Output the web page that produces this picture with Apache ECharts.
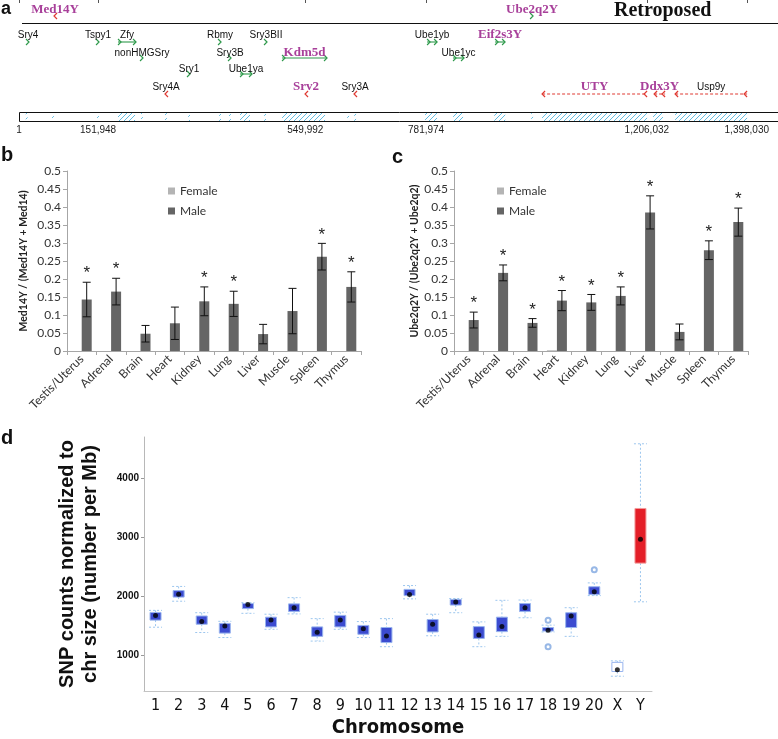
<!DOCTYPE html>
<html><head><meta charset="utf-8">
<script src="https://cdn.jsdelivr.net/npm/echarts@6/dist/echarts.min.js"></script>
<style>html,body{margin:0;padding:0;background:#fff}#c{width:778px;height:739px}</style>
</head><body><div id="c"></div>
<script>
// ---------- Panel a data ----------
const geneNames = ['Med14Y','Ube2q2Y','Sry4','Tspy1','Zfy','Rbmy','Sry3BII','Ube1yb','Eif2s3Y','nonHMGSry','Sry3B','Kdm5d','Ube1yc','Sry1','Ube1ya','Sry4A','Srv2','Sry3A','UTY','Ddx3Y','Usp9y'];
const geneStart = [69200,985600,17300,151800,190200,386200,474500,783900,914500,236300,405400,505300,833800,326600,424600,282400,551400,645500,1004800,1220000,1260300];
const geneEnd   = [69200,985600,17300,151800,224800,386200,474500,803100,933700,236300,405400,591700,854900,326600,447600,282400,551400,645500,1206500,1241100,1398600];
const geneStrand = [-1,1,1,1,1,1,1,1,1,1,1,1,1,1,1,-1,-1,-1,-1,-1,-1];
const geneRow = [0,0,1,1,1,1,1,1,1,2,2,2,2,3,3,4,4,4,4,4,4];
const geneRetroposed = [1,1,0,0,0,0,0,0,1,0,0,1,0,0,0,0,1,0,1,1,0];
const repeatStart = [13000,63500,150000,190200,234500,280500,325000,384500,403500,424600,471000,505300,630500,644000,780000,834000,913000,984000,1004800,1218000,1260300];
const repeatEnd   = [16500,67000,153500,222900,238000,284000,328500,388000,407000,443800,474500,587900,634000,647500,803000,853000,934000,987500,1206500,1237000,1398600];
const scaleTicks = [1,151948,549992,781974,1206032,1398030];

// ---------- Panels b / c data ----------
const tissues = ['Testis/Uterus','Adrenal','Brain','Heart','Kidney','Lung','Liver','Muscle','Spleen','Thymus'];
const bFemale = [0,0,0,0,0,0,0,0,0,0];
const bMale   = [0.143,0.165,0.048,0.077,0.138,0.131,0.047,0.111,0.262,0.178];
const bErr    = [0.048,0.037,0.023,0.045,0.040,0.035,0.027,0.063,0.037,0.042];
const bSig    = [1,1,0,0,1,1,0,0,1,1];
const cFemale = [0,0,0,0.002,0,0,0,0,0,0];
const cMale   = [0.086,0.217,0.078,0.140,0.135,0.153,0.385,0.053,0.280,0.358];
const cErr    = [0.022,0.022,0.012,0.028,0.022,0.025,0.046,0.022,0.026,0.039];
const cSig    = [1,1,1,1,1,1,1,0,1,1];

// ---------- Panel d data ----------
const chromosomes = ['1','2','3','4','5','6','7','8','9','10','11','12','13','14','15','16','17','18','19','20','X','Y'];
const dLow  = [1480,1920,1390,1305,1715,1445,1705,1245,1445,1305,1150,1960,1335,1725,1150,1325,1640,1400,1325,2015,650,1910];
const dQ1   = [1600,1990,1530,1380,1795,1485,1745,1325,1485,1360,1220,2015,1400,1855,1290,1405,1745,1415,1475,2035,730,2565];
const dQ3   = [1730,2100,1670,1545,1880,1650,1875,1485,1680,1510,1475,2120,1610,1950,1490,1650,1880,1475,1725,2165,885,3490];
const dHigh = [1765,2170,1725,1580,1895,1700,1980,1625,1735,1575,1625,2185,1700,1965,1570,1935,1940,1515,1810,2230,910,4585];
const dMean = [1680,2040,1575,1500,1865,1600,1810,1395,1600,1455,1330,2035,1530,1905,1350,1490,1810,1430,1670,2080,760,2970];
const dOutlierChr = ['18','18','20'];
const dOutlierVal = [1597,1148,2454];
const dTicks = [1000,2000,3000,4000];

// ---------- layout / style ----------
const ROW_LABEL_Y = [10,35,53,69,87];
const ROW_ARROW_Y = [16,42,58,74,94];
const TRACK_TOP = 112, TRACK_BOTTOM = 121;
const BAR_W = 10;
const NARROW = '"DejaVu Sans Condensed","Liberation Sans Narrow","Arial Narrow","Liberation Sans",sans-serif';

function makeHatch(){
  const c=document.createElement('canvas'); c.width=5; c.height=5;
  const g=c.getContext('2d'); g.fillStyle='#ffffff'; g.fillRect(0,0,5,5);
  g.strokeStyle='#62bde3'; g.lineWidth=1;
  g.beginPath(); g.moveTo(-1,6); g.lineTo(6,-1); g.stroke();
  return c;
}
const hatch = {image: makeHatch(), repeat:'repeat'};

function renderGene(params, api){
  const s=api.value(0), e=api.value(1), strand=api.value(2), row=api.value(3), retro=api.value(4), idx=api.value(5);
  const ay = api.coord([s, ROW_ARROW_Y[row]])[1];
  const ly = api.coord([s, ROW_LABEL_Y[row]])[1];
  const x1 = api.coord([s,0])[0], x2 = api.coord([e,0])[0];
  const col = strand>0 ? '#2f9a4c' : '#e03a32';
  const ch = [];
  const chev = (x, dir) => ({type:'polyline', shape:{points:[[x-2*dir, ay-3],[x+1*dir, ay],[x-2*dir, ay+3]]}, style:{stroke:col, lineWidth:1.2, fill:null}});
  if (x2-x1 < 4) { ch.push(chev((x1+x2)/2, strand)); }
  else {
    const st = {stroke:col, lineWidth:1.1};
    if (strand<0) st.lineDash=[3,2];
    ch.push({type:'line', shape:{x1:x1, y1:ay, x2:x2, y2:ay}, style:st});
    if (strand>0){ ch.push(chev(x1+2,1)); ch.push(chev(x2-1,1)); }
    else { ch.push(chev(x1+1,-1)); ch.push(chev(x2-2,-1)); }
  }
  ch.push({type:'text', style:{text: geneNames[idx], x:(x1+x2)/2, y:ly, align:'center', verticalAlign:'middle',
    fill: retro ? '#a8409a' : '#111', font: retro ? 'bold 13px "Liberation Serif"' : '10px "Liberation Sans"'}});
  return {type:'group', children:ch};
}
function renderRepeat(params, api){
  const x1 = api.coord([api.value(0), TRACK_TOP]), x2 = api.coord([api.value(1), TRACK_BOTTOM]);
  return {type:'rect', shape:{x:x1[0], y:x1[1], width:Math.max(1.5, x2[0]-x1[0]), height:x2[1]-x1[1]}, style:{fill:hatch, stroke:null}};
}
function renderTrack(params, api){
  const p1 = api.coord([api.value(0), TRACK_TOP]), p2 = api.coord([api.value(1), TRACK_BOTTOM]);
  return {type:'rect', shape:{x:p1[0]+0.5, y:p1[1]+0.5, width:p2[0]-p1[0]+5, height:p2[1]-p1[1]}, style:{fill:null, stroke:'#111', lineWidth:1}};
}
function renderErr(params, api){
  const i=api.value(0), v=api.value(1), e=api.value(2), sig=api.value(3);
  const x = api.coord([i,0])[0] + BAR_W/2;
  const yt = api.coord([i, v+e])[1], yb = api.coord([i, Math.max(0,v-e)])[1];
  const st = {stroke:'#111', lineWidth:1};
  const ch = [
    {type:'line', shape:{x1:x,y1:yt,x2:x,y2:yb}, style:st},
    {type:'line', shape:{x1:x-4,y1:yt,x2:x+4,y2:yt}, style:st},
    {type:'line', shape:{x1:x-4,y1:yb,x2:x+4,y2:yb}, style:st}
  ];
  if (sig) ch.push({type:'text', style:{text:'*', x:x, y:yt-17, align:'center', verticalAlign:'top', font:'17px "Liberation Sans"', fill:'#222'}});
  return {type:'group', children:ch};
}
function renderBox(params, api){
  const i=api.value(0);
  const x = api.coord([i,0])[0];
  const yLow=api.coord([i,api.value(1)])[1], yQ1=api.coord([i,api.value(2)])[1], yQ3=api.coord([i,api.value(3)])[1], yHigh=api.coord([i,api.value(4)])[1];
  const name = chromosomes[i];
  const fill = name==='Y' ? '#e41f28' : name==='X' ? '#ffffff' : '#3b4bd0';
  const stroke = name==='Y' ? '#f29a9a' : '#98b4ee';
  const w = {stroke:'#9cc6ee', lineWidth:1, lineDash:[2,2]};
  const bw=11, cw=13;
  return {type:'group', children:[
    {type:'line', shape:{x1:x,y1:yHigh,x2:x,y2:yQ3}, style:w},
    {type:'line', shape:{x1:x,y1:yQ1,x2:x,y2:yLow}, style:w},
    {type:'line', shape:{x1:x-cw/2,y1:yHigh,x2:x+cw/2,y2:yHigh}, style:w},
    {type:'line', shape:{x1:x-cw/2,y1:yLow,x2:x+cw/2,y2:yLow}, style:w},
    {type:'rect', shape:{x:x-bw/2, y:yQ3, width:bw, height:yQ1-yQ3}, style:{fill:fill, stroke:stroke, lineWidth:1}}
  ]};
}

const axisGray = '#a6a6a6';
const bcFont = 'Lato';
function bcY(grid, name, gap){
  return {gridIndex:grid, type:'value', min:0, max:0.5, interval:0.05,
    name:name, nameLocation:'middle', nameGap:gap,
    nameTextStyle:{fontWeight:'bold', fontSize:10.5, color:'#222', fontFamily:bcFont},
    axisLine:{show:true, lineStyle:{color:axisGray}}, axisTick:{show:true, length:4, lineStyle:{color:axisGray}},
    splitLine:{show:false}, axisLabel:{fontSize:12, color:'#333', fontFamily:bcFont, margin:6}};
}
function bcX(grid){
  return {gridIndex:grid, type:'category', data:tissues,
    axisLine:{lineStyle:{color:axisGray}}, axisTick:{show:true, length:4, lineStyle:{color:axisGray}},
    axisLabel:{rotate:45, interval:0, fontSize:12, color:'#333', fontFamily:bcFont, margin:6}};
}

const option = {
  backgroundColor:'#fff',
  animation:false,
  grid:[
    {left:19, right:0, top:0, height:121},
    {left:67, right:417, top:171, bottom:388},
    {left:454, right:30, top:171, bottom:388},
    {left:144, right:126, top:437, bottom:46}
  ],
  xAxis:[
    {gridIndex:0, type:'value', min:1, max:1458000, position:'bottom',
      axisLine:{show:false}, splitLine:{show:false},
      axisTick:{show:true, customValues:scaleTicks, length:3, lineStyle:{color:'#555'}},
      axisLabel:{customValues:scaleTicks, fontSize:10, color:'#222', fontFamily:'Liberation Sans', margin:4,
        formatter:v=>Number(v).toLocaleString('en-US')}},
    bcX(1), bcX(2),
    {gridIndex:3, type:'category', data:chromosomes,
      axisLine:{lineStyle:{color:'#c4c4c4'}}, axisTick:{show:false},
      axisLabel:{interval:0, fontSize:16, color:'#111', fontFamily:NARROW, margin:7},
      name:'Chromosome', nameLocation:'middle', nameGap:27,
      nameTextStyle:{fontSize:20, fontWeight:'bold', color:'#111', fontFamily:NARROW}}
  ],
  yAxis:[
    {gridIndex:0, type:'value', min:0, max:121, inverse:true, show:false},
    bcY(1, 'Med14Y / (Med14Y + Med14)', 38),
    bcY(2, 'Ube2q2Y / (Ube2q2Y + Ube2q2)', 34),
    {gridIndex:3, type:'value', min:400, max:4700,
      name:'SNP counts normalized to\nchr size (number per Mb)', nameLocation:'middle', nameGap:42,
      nameTextStyle:{fontSize:20, fontWeight:'bold', color:'#111', fontFamily:'Liberation Sans', lineHeight:23},
      axisLine:{show:true, lineStyle:{color:'#b8b8b8'}}, splitLine:{show:false},
      axisTick:{show:true, customValues:dTicks, length:3, lineStyle:{color:'#999'}},
      axisLabel:{customValues:dTicks, fontSize:10, fontWeight:'bold', color:'#111', fontFamily:'Liberation Sans', margin:5,
        formatter:v=>String(v)}}
  ],
  legend:[
    {left:163, top:180, orient:'vertical', itemWidth:7, itemHeight:7, itemGap:8, icon:'rect',
      data:['Female','Male'], textStyle:{fontSize:12, color:'#333', fontFamily:bcFont}, selectedMode:false},
    {left:492, top:180, orient:'vertical', itemWidth:7, itemHeight:7, itemGap:8, icon:'rect',
      data:['Female','Male'], textStyle:{fontSize:12, color:'#333', fontFamily:bcFont}, selectedMode:false}
  ],
  graphic:[
    {type:'text', left:1, top:0, style:{text:'a', font:'bold 18px "Liberation Sans"', fill:'#111'}},
    {type:'text', left:1, top:145, style:{text:'b', font:'bold 20px "Liberation Sans"', fill:'#111'}},
    {type:'text', left:392, top:147, style:{text:'c', font:'bold 20px "Liberation Sans"', fill:'#111'}},
    {type:'text', left:1, top:428, style:{text:'d', font:'bold 20px "Liberation Sans"', fill:'#111'}},
    {type:'line', shape:{x1:22, y1:23.5, x2:778, y2:23.5}, style:{stroke:'#111', lineWidth:1.2}},
    {type:'text', left:614, top:1, style:{text:'Retroposed', font:'bold 20px "Liberation Serif"', fill:'#111'}}
  ],
  series:[
    {type:'custom', xAxisIndex:0, yAxisIndex:0, renderItem:renderRepeat, z:2,
      data: repeatStart.map((s,i)=>[s, repeatEnd[i]])},
    {type:'custom', xAxisIndex:0, yAxisIndex:0, renderItem:renderTrack, z:3, data:[[1,1458000]]},
    {type:'custom', xAxisIndex:0, yAxisIndex:0, renderItem:renderGene, z:4,
      data: geneNames.map((n,i)=>[geneStart[i], geneEnd[i], geneStrand[i], geneRow[i], geneRetroposed[i], i])},

    {name:'Female', type:'bar', xAxisIndex:1, yAxisIndex:1, data:bFemale, barWidth:BAR_W, barGap:'0%', itemStyle:{color:'#b4b4b4'}},
    {name:'Male', type:'bar', xAxisIndex:1, yAxisIndex:1, data:bMale, barWidth:BAR_W, barGap:'0%', itemStyle:{color:'#656565'}},
    {type:'custom', xAxisIndex:1, yAxisIndex:1, renderItem:renderErr, z:5,
      data: bMale.map((v,i)=>[i, v, bErr[i], bSig[i]])},

    {name:'Female', type:'bar', xAxisIndex:2, yAxisIndex:2, data:cFemale, barWidth:BAR_W, barGap:'0%', itemStyle:{color:'#b4b4b4'}},
    {name:'Male', type:'bar', xAxisIndex:2, yAxisIndex:2, data:cMale, barWidth:BAR_W, barGap:'0%', itemStyle:{color:'#656565'}},
    {type:'custom', xAxisIndex:2, yAxisIndex:2, renderItem:renderErr, z:5,
      data: cMale.map((v,i)=>[i, v, cErr[i], cSig[i]])},

    {type:'custom', xAxisIndex:3, yAxisIndex:3, renderItem:renderBox, z:3,
      data: chromosomes.map((c,i)=>[i, dLow[i], dQ1[i], dQ3[i], dHigh[i]])},
    {type:'scatter', xAxisIndex:3, yAxisIndex:3, symbol:'circle', symbolSize:5, z:5,
      itemStyle:{color:'#000'}, data: chromosomes.map((c,i)=>[i, dMean[i]])},
    {type:'scatter', xAxisIndex:3, yAxisIndex:3, symbol:'emptyCircle', symbolSize:5, z:5,
      itemStyle:{color:'#7ea6e0', borderColor:'#7ea6e0', borderWidth:1},
      data: dOutlierChr.map((c,i)=>[chromosomes.indexOf(c), dOutlierVal[i]])}
  ]
};
const chart = echarts.init(document.getElementById('c'), null, {renderer:'canvas'});
chart.setOption(option);
</script></body></html>
